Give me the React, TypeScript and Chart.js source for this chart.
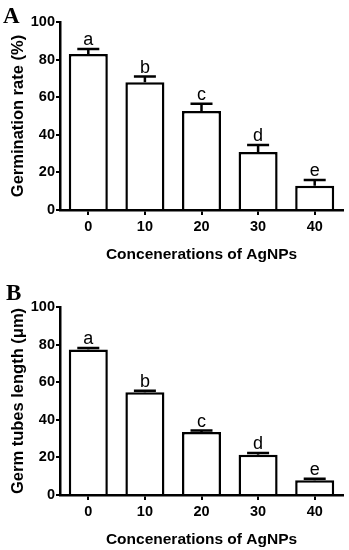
import React, { useEffect, useRef } from "react";
import { Chart, registerables } from "chart.js";

Chart.register(...registerables);

// ---- data ----
const categories = ["0", "10", "20", "30", "40"];
const germinationRate = [83, 68, 52.7, 30.9, 12.9];
const germinationRateErr = [2.7, 3.0, 3.8, 3.7, 3.1];
const tubeLength = [77.4, 54.6, 33.5, 21.4, 7.9];
const tubeLengthErr = [0.8, 0.9, 0.8, 1.0, 0.8];
const groupLetters = ["a", "b", "c", "d", "e"];
const yTickMin = 0;
const yTickMax = 100;
const yTickStep = 20;

const SANS = "'Liberation Sans', Arial, sans-serif";

type PanelProps = {
  values: number[];
  errors: number[];
  letters: string[];
  yTitle: string;
  padTop: number;
  padBottom: number;
};

const errorBarPlugin = {
  id: "errorBarsLetters",
  afterDatasetsDraw(chart: any, _args: any, opts: any) {
    const { ctx } = chart;
    const meta = chart.getDatasetMeta(0);
    const yScale = chart.scales.y;
    const values: number[] = opts.values || [];
    const errors: number[] = opts.errors || [];
    const letters: string[] = opts.letters || [];
    ctx.save();
    ctx.strokeStyle = "#000";
    ctx.lineWidth = 2.5;
    ctx.fillStyle = "#000";
    ctx.font = `18px ${SANS}`;
    ctx.textAlign = "center";
    ctx.textBaseline = "alphabetic";
    meta.data.forEach((bar: any, i: number) => {
      const x = bar.x;
      const yv = yScale.getPixelForValue(values[i]);
      const ye = yScale.getPixelForValue(values[i] + errors[i]);
      ctx.beginPath();
      ctx.moveTo(x, yv);
      ctx.lineTo(x, ye);
      ctx.moveTo(x - 11, ye);
      ctx.lineTo(x + 11, ye);
      ctx.stroke();
      ctx.fillText(letters[i], x, ye - 4);
    });
    ctx.restore();
  },
};

function Panel({ values, errors, letters, yTitle, padTop, padBottom }: PanelProps) {
  const ref = useRef<HTMLCanvasElement | null>(null);
  useEffect(() => {
    if (!ref.current) return;
    const chart = new Chart(ref.current, {
      type: "bar",
      data: {
        labels: categories,
        datasets: [
          {
            data: values,
            backgroundColor: "#fff",
            borderColor: "#000",
            borderWidth: 2.5,
            borderSkipped: "start",
            barPercentage: 0.69,
            categoryPercentage: 1,
          },
        ],
      },
      options: {
        responsive: false,
        animation: false,
        layout: { padding: { left: 5, right: 6, top: padTop, bottom: padBottom } },
        plugins: {
          legend: { display: false },
          tooltip: { enabled: false },
          errorBarsLetters: { values, errors, letters },
        } as any,
        scales: {
          x: {
            offset: true,
            grid: {
              display: true,
              offset: false,
              drawOnChartArea: false,
              drawTicks: true,
              tickLength: 5,
              color: "#000",
              lineWidth: 2,
            },
            border: { display: true, color: "#000", width: 2.5 },
            ticks: {
              color: "#000",
              padding: 3,
              font: { family: SANS, size: 14.5, weight: "bold" },
            },
            title: {
              display: true,
              text: "Concenerations of AgNPs",
              color: "#000",
              padding: 1,
              font: { family: SANS, size: 15.5, weight: "bold" },
            },
            afterFit(scale: any) {
              scale.height = 55;
            },
          },
          y: {
            min: yTickMin,
            max: yTickMax,
            grid: {
              display: true,
              drawOnChartArea: false,
              drawTicks: true,
              tickLength: 4,
              color: "#000",
              lineWidth: 2,
            },
            border: { display: true, color: "#000", width: 2.5 },
            ticks: {
              stepSize: yTickStep,
              color: "#000",
              padding: 1,
              font: { family: SANS, size: 14.5, weight: "bold" },
            },
            title: {
              display: true,
              text: yTitle,
              color: "#000",
              font: { family: SANS, size: 16.5, weight: "bold" },
            },
            afterFit(scale: any) {
              scale.width = 55;
            },
          },
        },
      },
      plugins: [errorBarPlugin],
    } as any);
    return () => chart.destroy();
  }, [values, errors, letters, yTitle, padTop, padBottom]);
  return <canvas ref={ref} width={349} height={275} style={{ display: "block", width: 349, height: 275 }} />;
}

const letterStyle: React.CSSProperties = {
  position: "absolute",
  left: 3,
  fontFamily: "'Liberation Serif', 'Times New Roman', serif",
  fontWeight: "bold",
  fontSize: 23,
  lineHeight: "23px",
  color: "#000",
};

export default function App() {
  return (
    <div
      style={{
        position: "absolute",
        left: 0,
        top: 0,
        width: 349,
        height: 550,
        background: "#fff",
        overflow: "hidden",
      }}
    >
      <div style={{ position: "absolute", left: 0, top: 0 }}>
        <Panel
          values={germinationRate}
          errors={germinationRateErr}
          letters={groupLetters}
          yTitle="Germination rate (%)"
          padTop={22}
          padBottom={10}
        />
      </div>
      <div style={{ position: "absolute", left: 0, top: 275 }}>
        <Panel
          values={tubeLength}
          errors={tubeLengthErr}
          letters={groupLetters}
          yTitle="Germ tubes length (μm)"
          padTop={32}
          padBottom={0}
        />
      </div>
      <div style={{ ...letterStyle, top: 4 }}>A</div>
      <div style={{ ...letterStyle, top: 281, left: 6 }}>B</div>
    </div>
  );
}
